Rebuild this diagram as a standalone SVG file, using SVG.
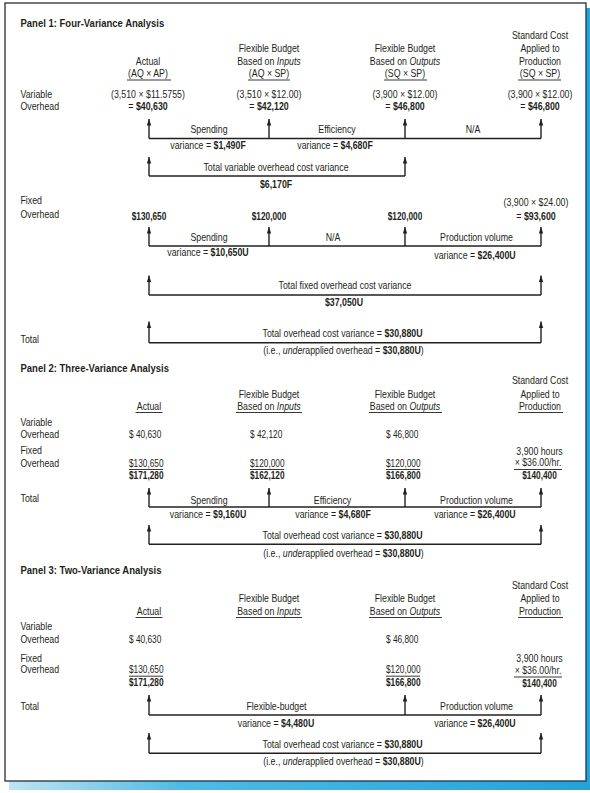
<svg xmlns="http://www.w3.org/2000/svg" width="590" height="793" viewBox="0 0 590 793">
<defs>
<linearGradient id="sh" x1="0" y1="0" x2="1" y2="0">
<stop offset="0" stop-color="#bfe3f3"/>
<stop offset="0.3" stop-color="#4dbbe6"/>
<stop offset="1" stop-color="#23a3da"/>
</linearGradient>
<marker id="ah" markerUnits="userSpaceOnUse" markerWidth="7" markerHeight="5" refX="6.5" refY="2.2" orient="auto">
<path d="M0,0 L6.5,2.2 L0,4.4 z" fill="#231f20"/>
</marker>
<style>
text{font-family:"Liberation Sans",Arial,sans-serif;font-size:10px;fill:#231f20;transform-box:fill-box;transform-origin:0 50%;transform:scaleX(0.88)}
.c{text-anchor:middle;transform-origin:50% 50%}
.n{transform:scaleX(0.83)}
.t{transform:scaleX(0.95)}
.b{font-weight:bold}
.i{font-style:italic}
.u{stroke:#231f20;stroke-width:0.9}
.ln{stroke:#231f20;stroke-width:1.4;fill:none}
.ar{stroke:#231f20;stroke-width:1.4;fill:none;marker-end:url(#ah)}
</style>
</defs>
<rect x="9" y="8" width="581" height="782" fill="url(#sh)"/>
<rect x="5" y="3" width="581" height="778" fill="#fff" stroke="#3a3a3a" stroke-width="1.4"/>

<!-- Panel 1 -->
<g id="p1-title"><text x="20.5" y="27.5" class="b t">Panel 1: Four-Variance Analysis</text></g>
<g id="p1-rowlabels">
<text x="20.5" y="98.5">Variable</text>
<text x="20.5" y="110.5">Overhead</text>
<text x="20.5" y="204.5">Fixed</text>
<text x="20.5" y="218.5">Overhead</text>
<text x="20.5" y="343.5">Total</text>
</g>
<g id="p1-actual">
<text x="148" y="65" class="c">Actual</text>
<text x="148" y="77.5" class="c">(AQ × AP)</text>
<line x1="127" y1="80" x2="171" y2="80" class="u"/>
<text x="148" y="98.5" class="c">(3,510 × $11.5755)</text>
<text x="148" y="110.5" class="c">= <tspan class="b">$40,630</tspan></text>
<text x="149" y="220.5" class="c b n">$130,650</text>
</g>
<g id="p1-fb-inputs">
<text x="269" y="52.5" class="c">Flexible Budget</text>
<text x="269" y="65" class="c">Based on <tspan class="i">Inputs</tspan></text>
<text x="269" y="77.5" class="c">(AQ × SP)</text>
<line x1="248" y1="80" x2="290" y2="80" class="u"/>
<text x="269" y="98.5" class="c">(3,510 × $12.00)</text>
<text x="269" y="110.5" class="c">= <tspan class="b">$42,120</tspan></text>
<text x="269" y="220.5" class="c b n">$120,000</text>
</g>
<g id="p1-fb-outputs">
<text x="405" y="52.5" class="c">Flexible Budget</text>
<text x="405" y="65" class="c">Based on <tspan class="i">Outputs</tspan></text>
<text x="405" y="77.5" class="c">(SQ × SP)</text>
<line x1="384" y1="80" x2="427" y2="80" class="u"/>
<text x="405" y="98.5" class="c">(3,900 × $12.00)</text>
<text x="405" y="110.5" class="c">= <tspan class="b">$46,800</tspan></text>
<text x="405" y="220.5" class="c b n">$120,000</text>
</g>
<g id="p1-standard">
<text x="540" y="39.5" class="c">Standard Cost</text>
<text x="540" y="52.5" class="c">Applied to</text>
<text x="540" y="65" class="c">Production</text>
<text x="540" y="77.5" class="c">(SQ × SP)</text>
<line x1="518" y1="80" x2="561" y2="80" class="u"/>
<text x="540" y="98.5" class="c">(3,900 × $12.00)</text>
<text x="540" y="110.5" class="c">= <tspan class="b">$46,800</tspan></text>
<text x="536" y="206.5" class="c">(3,900 × $24.00)</text>
<text x="536" y="220.5" class="c">= <tspan class="b">$93,600</tspan></text>
</g>
<g id="p1-variances">
<text x="209" y="133.5" class="c">Spending</text>
<text x="208" y="149" class="c">variance = <tspan class="b">$1,490F</tspan></text>
<text x="337" y="133.5" class="c">Efficiency</text>
<text x="335" y="149" class="c">variance = <tspan class="b">$4,680F</tspan></text>
<text x="473" y="133.5" class="c">N/A</text>
<text x="276" y="171" class="c">Total variable overhead cost variance</text>
<text x="276" y="188" class="c b">$6,170F</text>
<text x="209" y="241" class="c">Spending</text>
<text x="208" y="256.5" class="c">variance = <tspan class="b">$10,650U</tspan></text>
<text x="333" y="241" class="c">N/A</text>
<text x="476.5" y="241" class="c">Production volume</text>
<text x="475" y="259.5" class="c">variance = <tspan class="b">$26,400U</tspan></text>
<text x="345" y="289.5" class="c">Total fixed overhead cost variance</text>
<text x="344" y="306" class="c b">$37,050U</text>
<text x="342.5" y="337.5" class="c">Total overhead cost variance = <tspan class="b">$30,880U</tspan></text>
<text x="343.5" y="354.5" class="c">(i.e., <tspan class="i">under</tspan>applied overhead = <tspan class="b">$30,880U</tspan>)</text>
</g>

<!-- Panel 2 -->
<g id="p2-title"><text x="20.5" y="372" class="b t">Panel 2: Three-Variance Analysis</text></g>
<g id="p2-rowlabels">
<text x="20.5" y="425.8">Variable</text>
<text x="20.5" y="438.5">Overhead</text>
<text x="20.5" y="454.5">Fixed</text>
<text x="20.5" y="466.8">Overhead</text>
<text x="20.5" y="502.5">Total</text>
</g>
<g id="p2-actual">
<text x="149" y="410" class="c">Actual</text>
<line x1="135.5" y1="412.5" x2="162.5" y2="412.5" class="u"/>
<text x="129" y="438.5" class="n">$ 40,630</text>
<text x="129" y="466.8" class="n">$130,650</text>
<line x1="129" y1="469.5" x2="163" y2="469.5" class="u"/>
<text x="129" y="479.5" class="b n">$171,280</text>
</g>
<g id="p2-fb-inputs">
<text x="269" y="397.8" class="c">Flexible Budget</text>
<text x="269" y="410" class="c">Based on <tspan class="i">Inputs</tspan></text>
<line x1="236" y1="412.5" x2="302" y2="412.5" class="u"/>
<text x="250" y="438.5" class="n">$ 42,120</text>
<text x="250" y="466.8" class="n">$120,000</text>
<line x1="250" y1="469.5" x2="284" y2="469.5" class="u"/>
<text x="250" y="479.5" class="b n">$162,120</text>
</g>
<g id="p2-fb-outputs">
<text x="405" y="397.8" class="c">Flexible Budget</text>
<text x="405" y="410" class="c">Based on <tspan class="i">Outputs</tspan></text>
<line x1="369" y1="412.5" x2="442" y2="412.5" class="u"/>
<text x="386" y="438.5" class="n">$ 46,800</text>
<text x="386" y="466.8" class="n">$120,000</text>
<line x1="386" y1="469.5" x2="420" y2="469.5" class="u"/>
<text x="386" y="479.5" class="b n">$166,800</text>
</g>
<g id="p2-standard">
<text x="540" y="384.5" class="c">Standard Cost</text>
<text x="540" y="397.8" class="c">Applied to</text>
<text x="540" y="410" class="c">Production</text>
<line x1="518" y1="412.5" x2="563" y2="412.5" class="u"/>
<text x="539.5" y="455" class="c">3,900 hours</text>
<text x="538" y="466.2" class="c">× $36.00/hr.</text>
<line x1="514" y1="469.5" x2="562" y2="469.5" class="u"/>
<text x="539.5" y="479.5" class="c b n">$140,400</text>
</g>
<g id="p2-variances">
<text x="209" y="504" class="c">Spending</text>
<text x="208" y="518.5" class="c">variance = <tspan class="b">$9,160U</tspan></text>
<text x="332.5" y="504" class="c">Efficiency</text>
<text x="333" y="518.5" class="c">variance = <tspan class="b">$4,680F</tspan></text>
<text x="476.5" y="504" class="c">Production volume</text>
<text x="475" y="518.5" class="c">variance = <tspan class="b">$26,400U</tspan></text>
<text x="342.5" y="539.5" class="c">Total overhead cost variance = <tspan class="b">$30,880U</tspan></text>
<text x="343.5" y="556.8" class="c">(i.e., <tspan class="i">under</tspan>applied overhead = <tspan class="b">$30,880U</tspan>)</text>
</g>

<!-- Panel 3 -->
<g id="p3-title"><text x="20.5" y="574" class="b t">Panel 3: Two-Variance Analysis</text></g>
<g id="p3-rowlabels">
<text x="20.5" y="630">Variable</text>
<text x="20.5" y="642.8">Overhead</text>
<text x="20.5" y="661.8">Fixed</text>
<text x="20.5" y="673.5">Overhead</text>
<text x="20.5" y="710.2">Total</text>
</g>
<g id="p3-actual">
<text x="149" y="615.2" class="c">Actual</text>
<line x1="135.5" y1="617.5" x2="162.5" y2="617.5" class="u"/>
<text x="129" y="642.8" class="n">$ 40,630</text>
<text x="129" y="673.5" class="n">$130,650</text>
<line x1="129" y1="676.2" x2="163" y2="676.2" class="u"/>
<text x="129" y="686.2" class="b n">$171,280</text>
</g>
<g id="p3-fb-inputs">
<text x="269" y="601.8" class="c">Flexible Budget</text>
<text x="269" y="615.2" class="c">Based on <tspan class="i">Inputs</tspan></text>
<line x1="236" y1="617.5" x2="302" y2="617.5" class="u"/>
</g>
<g id="p3-fb-outputs">
<text x="405" y="601.8" class="c">Flexible Budget</text>
<text x="405" y="615.2" class="c">Based on <tspan class="i">Outputs</tspan></text>
<line x1="369" y1="617.5" x2="442" y2="617.5" class="u"/>
<text x="386" y="642.8" class="n">$ 46,800</text>
<text x="386" y="673.5" class="n">$120,000</text>
<line x1="386" y1="676.2" x2="420" y2="676.2" class="u"/>
<text x="386" y="686.2" class="b n">$166,800</text>
</g>
<g id="p3-standard">
<text x="540" y="589" class="c">Standard Cost</text>
<text x="540" y="601.8" class="c">Applied to</text>
<text x="540" y="615.2" class="c">Production</text>
<line x1="518" y1="617.5" x2="563" y2="617.5" class="u"/>
<text x="539.5" y="661.8" class="c">3,900 hours</text>
<text x="538" y="674.2" class="c">× $36.00/hr.</text>
<line x1="514" y1="677" x2="562" y2="677" class="u"/>
<text x="539.5" y="687.5" class="c b n">$140,400</text>
</g>
<g id="p3-variances">
<text x="276.5" y="710.2" class="c">Flexible-budget</text>
<text x="276" y="726.8" class="c">variance = <tspan class="b">$4,480U</tspan></text>
<text x="476.5" y="710.2" class="c">Production volume</text>
<text x="475" y="726.8" class="c">variance = <tspan class="b">$26,400U</tspan></text>
<text x="342.5" y="748.5" class="c">Total overhead cost variance = <tspan class="b">$30,880U</tspan></text>
<text x="343.5" y="765.2" class="c">(i.e., <tspan class="i">under</tspan>applied overhead = <tspan class="b">$30,880U</tspan>)</text>
</g>

<!-- Connectors -->
<g id="connectors">
<path class="ln" d="M149,138.5 H541"/>
<path class="ar" d="M149,138.5 V119"/>
<path class="ar" d="M269,138.5 V119"/>
<path class="ar" d="M405,138.5 V119"/>
<path class="ar" d="M541,138.5 V119"/>
<path class="ln" d="M149,176 H405"/>
<path class="ar" d="M149,176 V157"/>
<path class="ar" d="M405,176 V157"/>
<path class="ln" d="M149,246 H541"/>
<path class="ar" d="M149,246 V227"/>
<path class="ar" d="M269,246 V227"/>
<path class="ar" d="M405,246 V227"/>
<path class="ar" d="M541,246 V227"/>
<path class="ln" d="M149,295 H541"/>
<path class="ar" d="M149,295 V275.5"/>
<path class="ar" d="M541,295 V275.5"/>
<path class="ln" d="M149,342.7 H541"/>
<path class="ar" d="M149,342.7 V321.5"/>
<path class="ar" d="M541,342.7 V321.5"/>
<path class="ln" d="M149,507 H541"/>
<path class="ar" d="M149,507 V488"/>
<path class="ar" d="M269,507 V488"/>
<path class="ar" d="M405,507 V488"/>
<path class="ar" d="M541,507 V488"/>
<path class="ln" d="M149,544.3 H541"/>
<path class="ar" d="M149,544.3 V525"/>
<path class="ar" d="M541,544.3 V525"/>
<path class="ln" d="M149,715 H541"/>
<path class="ar" d="M149,715 V695"/>
<path class="ar" d="M405,715 V695"/>
<path class="ar" d="M541,715 V695"/>
<path class="ln" d="M149,753.3 H541"/>
<path class="ar" d="M149,753.3 V733"/>
<path class="ar" d="M541,753.3 V733"/>
</g>
</svg>
